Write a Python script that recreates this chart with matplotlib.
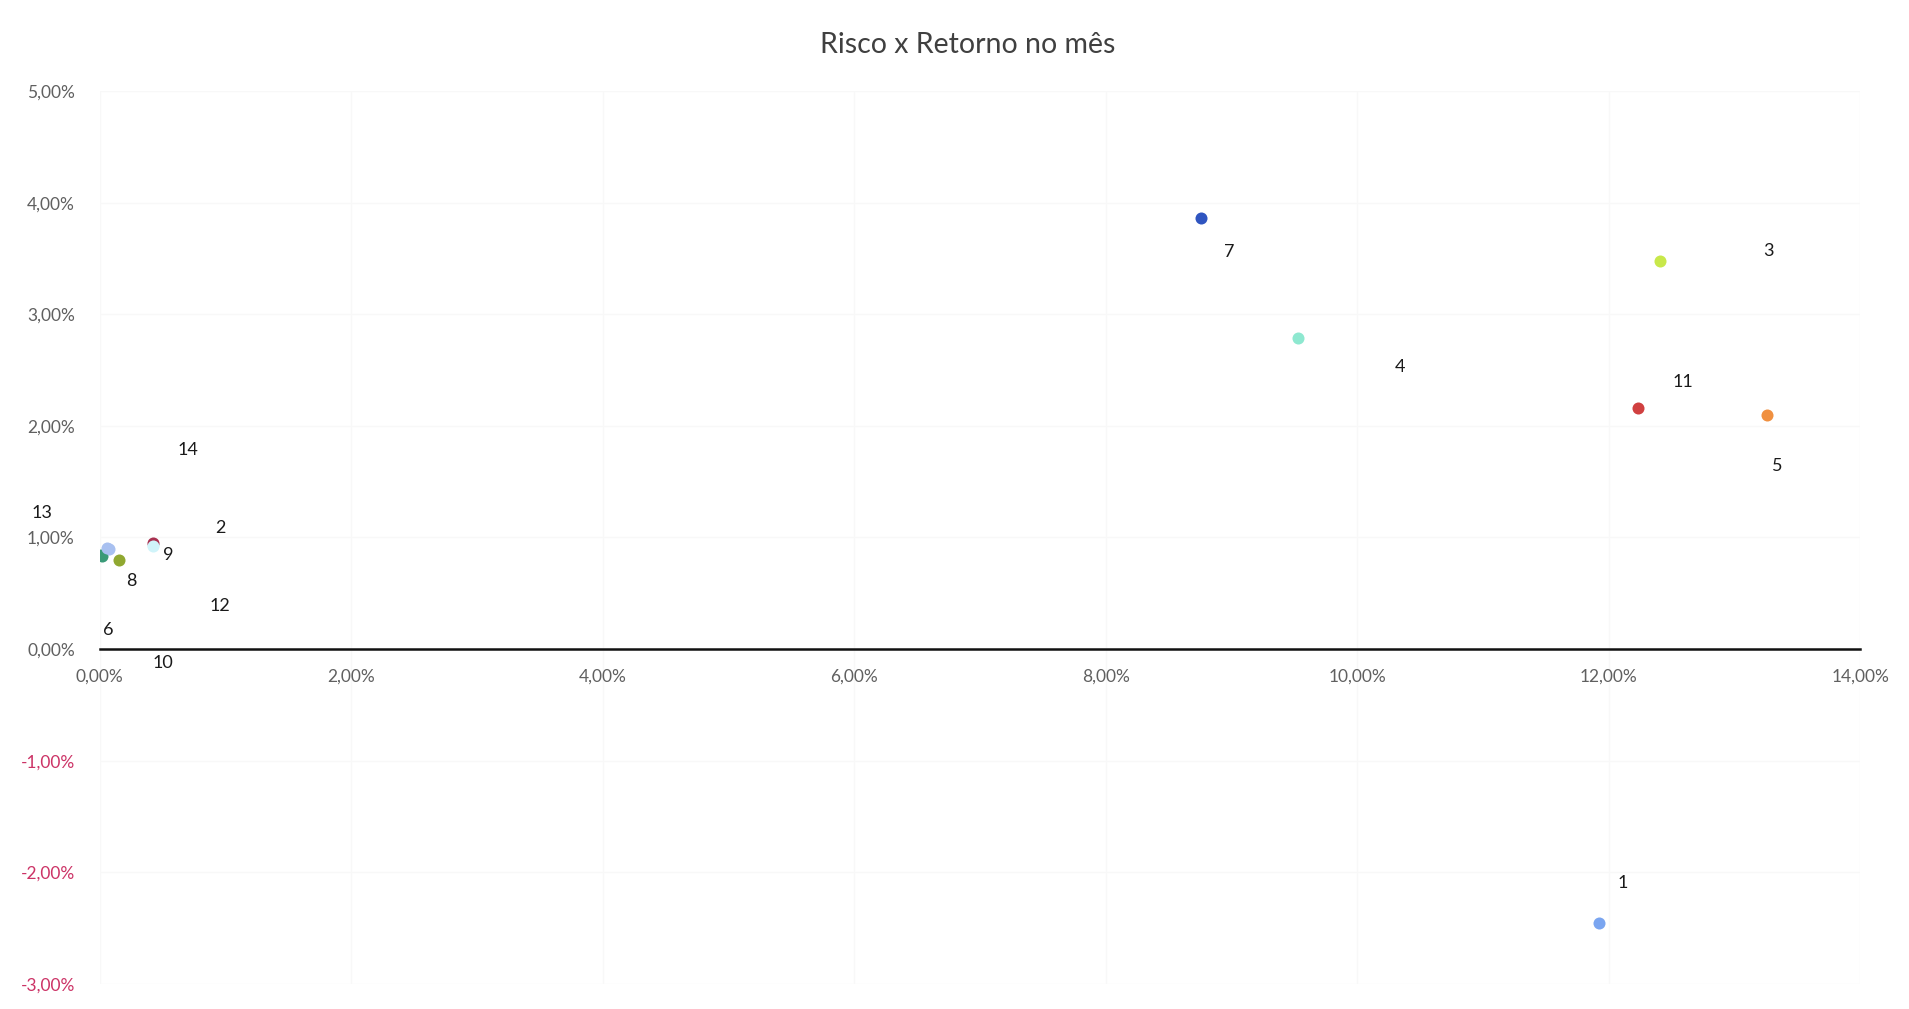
import matplotlib
matplotlib.use("Agg")
import matplotlib.pyplot as plt
from matplotlib.ticker import FuncFormatter

# Data (percent)
labels = ["1", "2", "3", "4", "5", "6", "7", "8", "9", "10", "11", "12", "13", "14"]
risco = [11.92, 0.42, 12.41, 9.53, 13.26, 0.01, 8.76, 0.15, 0.42, 0.02, 12.23, 0.42, 0.06, 0.07]
retorno = [-2.45, 0.95, 3.48, 2.79, 2.10, 0.84, 3.86, 0.80, 0.92, 0.83, 2.16, 0.93, 0.91, 0.90]
colors = ["#7aa5f0", "#a83050", "#c8e84a", "#8ee8d0", "#f09040", "#3a9a78", "#2f55c0",
          "#90a830", "#d0f4fa", "#3a9a78", "#d04040", "#d0f4fa", "#a8c0f0", "#a8c0f0"]
# label offsets in pixels (dx, dy)
label_offsets = [(24, 40), (68, 15), (108, 10), (102, -29), (10, -51), (7, -75), (28, -34),
                 (13, -21), (16, -9), (61, -107), (45, 26), (67, -61), (-65, 35), (79, 99)]
draw_order = [9, 13, 11, 0, 2, 3, 4, 6, 10, 1, 8, 5, 12, 7]

xticks = [0, 2, 4, 6, 8, 10, 12, 14]
yticks = [-3, -2, -1, 0, 1, 2, 3, 4, 5]

plt.rcParams['font.family'] = ['Lato', 'DejaVu Sans']

fig = plt.figure(figsize=(19.09, 10.09), dpi=100)
ax = fig.add_axes([0.0523, 0.0248, 0.9222, 0.885])
ax.set_xlim(0, 14)
ax.set_ylim(-3, 5)

for i in draw_order:
    ax.scatter(risco[i], retorno[i], s=75, color=colors[i], zorder=3, linewidths=0)
for i in range(len(labels)):
    ax.annotate(labels[i], (risco[i], retorno[i]), xytext=label_offsets[i],
                textcoords='offset pixels', ha='center', va='center',
                fontsize=13, color='#1a1a1a', zorder=4)

ax.set_xticks(xticks)
ax.set_yticks(yticks)
fmt = FuncFormatter(lambda v, p: f"{v:.2f}%".replace('.', ','))
ax.xaxis.set_major_formatter(fmt)
ax.yaxis.set_major_formatter(fmt)

for s in ['top', 'right', 'left']:
    ax.spines[s].set_visible(False)
ax.spines['bottom'].set_position(('data', 0))
ax.spines['bottom'].set_linewidth(1.8)
ax.spines['bottom'].set_color('#111111')
ax.tick_params(axis='both', length=0, labelsize=12.5, labelcolor='#606060')
ax.tick_params(axis='x', pad=14)
ax.tick_params(axis='y', pad=18)
for t, v in zip(ax.get_yticklabels(), yticks):
    if v < 0:
        t.set_color('#cc3366')

ax.grid(True, color='#f8f8f8', linewidth=1)
ax.set_axisbelow(True)

fig.text(0.507, 0.955, "Risco x Retorno no mês", ha='center', va='center',
         fontsize=20.5, color='#404040')

fig.savefig("out.png", dpi=100, facecolor='white')
